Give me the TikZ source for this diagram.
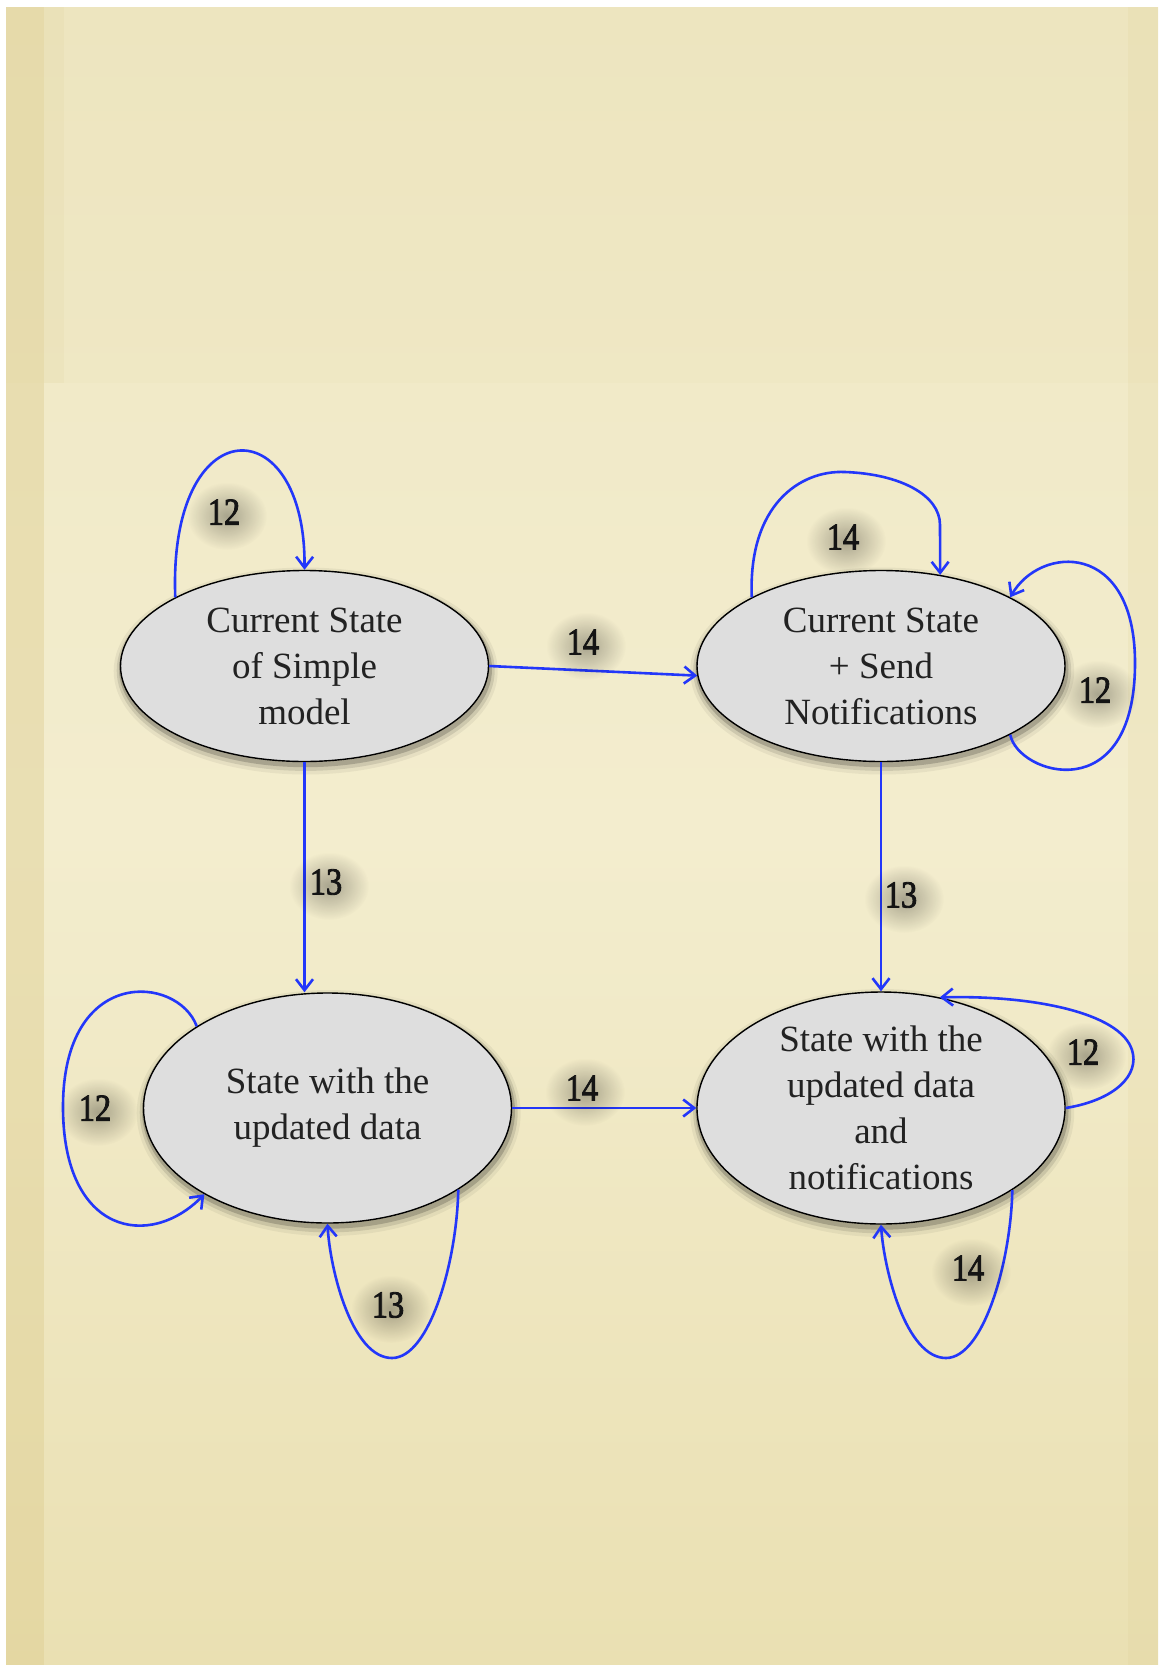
\documentclass[tikz,border=0pt]{standalone}
\usepackage{fontspec}
\setmainfont{Liberation Serif}
\newfontfamily\numfont[FakeBold=2.2,FakeStretch=0.85]{Liberation Serif}
\usetikzlibrary{shapes.geometric,arrows.meta,fadings,calc}

\definecolor{papertop}{HTML}{EFE7C3}
\definecolor{papermid}{HTML}{F3EDCE}
\definecolor{paperbot}{HTML}{EAE0B2}
\definecolor{paperedge}{HTML}{DCCB8C}
\definecolor{flowblue}{RGB}{35,55,250}
\definecolor{statefill}{HTML}{DEDEDE}
\definecolor{ink}{HTML}{222222}

% soft radial spot, opaque in the middle and clear at the rim
\tikzfading[name=softspot, inner color=transparent!0, outer color=transparent!100]

\tikzset{
  state/.style={ellipse, draw=black, line width=0.7pt, fill=statefill,
    minimum width=184pt, inner sep=0pt, align=center, text=ink,
    font=\fontsize{18.5}{23}\selectfont,
    preaction={draw=black, line width=8pt, draw opacity=0.05,
      transform canvas={xshift=0.6pt, yshift=-2.5pt}},
    preaction={draw=black, line width=5pt, draw opacity=0.10,
      transform canvas={xshift=0.6pt, yshift=-2.2pt}},
    preaction={draw=black, line width=2.5pt, draw opacity=0.18,
      transform canvas={xshift=0.5pt, yshift=-1.6pt}}},
  flow/.style={draw=flowblue, line width=1.3pt,
    -{Straight Barb[length=5.5pt, width=8.5pt]}},
  lbl/.style={font={\numfont\fontsize{19}{19}\selectfont}, text=black!92, inner sep=0pt},
  haze/.style={black, opacity=0.30, path fading=softspot}
}

% a transition label over a soft grey haze
\newcommand\edgelabel[3]{%
  \fill[haze] ($(#2)+(3,4)$) ellipse [x radius=40, y radius=34];
  \node[lbl] (#1) at (#2) {#3};}

\begin{document}
\begin{tikzpicture}[x=0.5pt,y=-0.5pt]
  \useasboundingbox (0,0) rectangle (1158,1665);
  \fill[white] (0,0) rectangle (1158,1665);

  % parchment
  \shade[top color=papertop, bottom color=paperbot, middle color=papermid]
    (6,7) rectangle (1158,1665);
  \fill[paperedge, opacity=0.06] (6,7) rectangle (1158,383);
  \fill[paperedge, opacity=0.40] (6,7) rectangle (44,1665);
  \fill[paperedge, opacity=0.12] (44,7) rectangle (64,383);
  \fill[paperedge, opacity=0.15] (1128,7) rectangle (1158,1665);

  % states
  \node[state, minimum height=95.5pt] (n1) at (304.5,666)
    {Current State\\of Simple\\model};
  \node[state, minimum height=95.5pt] (n2) at (881,666)
    {Current State\\+ Send\\Notifications};
  \node[state, minimum height=115pt] (n3) at (327.5,1108)
    {State with the\\updated data};
  \node[state, minimum height=115pt] (n4) at (881,1108)
    {State with the\\updated data\\and\\notifications};

  % transitions between states
  \draw[flow] (n1.east) -- (n2.183);
  \draw[flow] (n1.south) -- (n1.south |- n3.north);
  \draw[flow] (n2.south) -- (n4.north);
  \draw[flow] (n3.east) -- (n4.west);

  % self loops
  \draw[flow] (n1.152) .. controls (168,407) and (306,407) .. (n1.north);
  \draw[flow] (n2.152) .. controls (748,505) and (800,470) .. (845,472)
    .. controls (900,474) and (940,495) .. (940,525) -- (n2.57);
  \draw[flow] (n2.-28) .. controls (1018,775) and (1135,810) .. (1135,663)
    .. controls (1135,540) and (1040,545) .. (n2.28);
  \draw[flow] (n3.148) .. controls (178,975) and (63,965) .. (63,1107)
    .. controls (63,1235) and (150,1250) .. (n3.215);
  \draw[flow] (n3.-32) .. controls (457,1260) and (430,1358) .. (392,1358)
    .. controls (352,1358) and (330,1270) .. (n3.south);
  \draw[flow] (n4.east) .. controls (1115,1100) and (1140,1075) .. (1132,1050)
    .. controls (1120,1012) and (1030,995) .. (n4.62);
  \draw[flow] (n4.-32) .. controls (1011,1260) and (984,1358) .. (946,1358)
    .. controls (906,1358) and (884,1270) .. (n4.south);

  % labels
  \edgelabel{l1}{224,512}{12}
  \edgelabel{l2}{843,537}{14}
  \edgelabel{l3}{1095,690}{12}
  \edgelabel{l4}{583,642}{14}
  \edgelabel{l5}{326,882}{13}
  \edgelabel{l6}{901,895}{13}
  \edgelabel{l7}{95,1108}{12}
  \edgelabel{l8}{388,1305}{13}
  \edgelabel{l9}{582,1088}{14}
  \edgelabel{l10}{1083,1052}{12}
  \edgelabel{l11}{968,1268}{14}
\end{tikzpicture}
\end{document}
